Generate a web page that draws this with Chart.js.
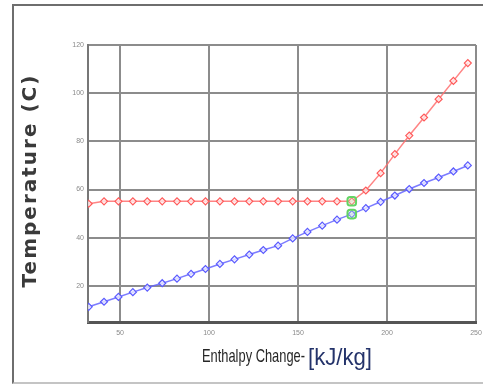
<!DOCTYPE html>
<html>
<head>
<meta charset="utf-8">
<script src="https://cdn.jsdelivr.net/npm/chart.js@4.4.0/dist/chart.umd.min.js"></script>
<style>
  html, body { margin: 0; padding: 0; background: #fff; }
  #wrap { position: relative; width: 483px; height: 385px; overflow: hidden; }
  #frame {
    position: absolute; left: 12px; top: 4px; width: 490px; height: 376px;
    border-top: 2px solid #6e6e6e; border-left: 2px solid #6e6e6e;
    border-bottom: 2px solid #c4c4c4;
  }
  canvas { position: relative; }
</style>
</head>
<body>
<div id="wrap">
  <div id="frame"></div>
  <canvas id="tqChart" width="483" height="385"></canvas>
</div>
<script>
// enthalpy change (kJ/kg) for each calculated point
const enthalpy = [32.4, 41.0, 49.1, 57.2, 65.3, 73.7, 82.0, 89.9, 98.0, 106.1, 114.3, 122.6, 130.5, 138.8,
                  147.0, 155.3, 163.6, 171.9, 180.2, 188.1, 196.4, 204.4, 212.5, 220.8, 229.0, 237.3, 245.4];
// hot side (red) temperature, C
const hotTemp = [54.1, 55.1, 55.1, 55.1, 55.1, 55.1, 55.1, 55.1, 55.1, 55.1, 55.1, 55.1, 55.1, 55.1,
                 55.1, 55.1, 55.1, 55.1, 55.1, 59.6, 66.8, 74.7, 82.4, 89.9, 97.5, 105.1, 112.5];
// cold side (blue) temperature, C
const coldTemp = [11.3, 13.4, 15.4, 17.4, 19.3, 21.1, 23.0, 25.0, 27.0, 29.1, 31.0, 33.0, 34.9, 36.7,
                  39.7, 42.4, 45.0, 47.5, 49.8, 52.3, 54.9, 57.5, 60.2, 62.7, 65.0, 67.5, 70.0];
// pinch point markers (green)
const pinchX = [180.2, 180.2];
const pinchY = [55.1, 49.8];

const xTicks = [50, 100, 150, 200, 250];
const yTicks = [20, 40, 60, 80, 100, 120];

const yTitle = 'Temperature (C)';
const xTitle = 'Enthalpy Change-';
const xUnit = '[kJ/kg]';

const toPoints = (xs, ys) => xs.map((x, i) => ({ x: x, y: ys[i] }));

// text squeezed/stretched to a given width
function drawFit(ctx, text, font, color, x, y, width) {
    ctx.save();
    ctx.font = font;
    ctx.fillStyle = color;
    ctx.textBaseline = 'alphabetic';
    ctx.textAlign = 'left';
    const w = ctx.measureText(text).width;
    ctx.translate(x, y);
    ctx.scale(width / w, 1);
    ctx.fillText(text, 0, 0);
    ctx.restore();
}

const axisTitles = {
    id: 'axisTitles',
    afterDraw(chart) {
        const ctx = chart.ctx;
        const area = chart.chartArea;
        // y title, rotated
        ctx.save();
        ctx.translate(36, (area.top + area.bottom) / 2 - 3);
        ctx.rotate(-Math.PI / 2);
        ctx.font = 'bold 20px "DejaVu Sans"';
        ctx.letterSpacing = '2px';
        ctx.fillStyle = '#3a3a3a';
        ctx.textAlign = 'center';
        ctx.textBaseline = 'alphabetic';
        ctx.fillText(yTitle, 0, 0);
        ctx.restore();
        // x title in two parts
        drawFit(ctx, xTitle, '19px "Liberation Sans"', '#262626', 202, 362, 103);
        drawFit(ctx, xUnit, '24px "Liberation Sans"', '#24336a', 308, 365, 64);
    }
};

const ctx = document.getElementById('tqChart');

new Chart(ctx, {
    type: 'scatter',
    data: {
        datasets: [{
            label: 'Hot',
            data: toPoints(enthalpy, hotTemp),
            showLine: true,
            borderColor: 'rgba(255, 110, 110, 0.85)',
            borderWidth: 1.5,
            pointStyle: 'rectRot',
            pointRadius: 3.5,
            pointBorderWidth: 1.2,
            pointBorderColor: '#ff5a5a',
            pointBackgroundColor: 'rgba(255, 235, 235, 0.8)',
            order: 2
        }, {
            label: 'Cold',
            data: toPoints(enthalpy, coldTemp),
            showLine: true,
            borderColor: 'rgba(100, 100, 255, 0.85)',
            borderWidth: 1.5,
            pointStyle: 'rectRot',
            pointRadius: 3.5,
            pointBorderWidth: 1.2,
            pointBorderColor: '#5a5aff',
            pointBackgroundColor: 'rgba(235, 235, 255, 0.8)',
            order: 2
        }, {
            label: 'Pinch',
            data: toPoints(pinchX, pinchY),
            showLine: false,
            pointStyle: 'rectRounded',
            pointRadius: 5,
            pointBorderWidth: 2,
            pointBorderColor: '#63d463',
            pointBackgroundColor: 'rgba(200, 240, 200, 0.3)',
            order: 1
        }]
    },
    options: {
        responsive: false,
        animation: false,
        devicePixelRatio: 1,
        layout: { padding: { top: 45, right: 2, left: 0, bottom: 0 } },
        scales: {
            x: {
                type: 'linear',
                min: 32,
                max: 250,
                afterBuildTicks: s => { s.ticks = xTicks.map(v => ({ value: v })); },
                afterFit: s => { s.height = 63; s.paddingLeft = 0; s.paddingRight = 0; },
                grid: { color: '#8c8c8c', lineWidth: 2, drawTicks: false },
                border: { color: '#555', width: 3 },
                ticks: {
                    font: { family: 'Liberation Sans', size: 7 },
                    color: '#8a8a8a',
                    padding: 7,
                    maxRotation: 0
                }
            },
            y: {
                min: 5,
                max: 120,
                afterBuildTicks: s => { s.ticks = yTicks.map(v => ({ value: v })); },
                afterFit: s => { s.width = 88; s.paddingTop = 0; s.paddingBottom = 0; },
                grid: { color: '#8c8c8c', lineWidth: 2, drawTicks: false },
                border: { color: '#777', width: 2 },
                ticks: {
                    font: { family: 'Liberation Sans', size: 7 },
                    color: '#8a8a8a',
                    padding: 4
                }
            }
        },
        plugins: {
            legend: { display: false },
            tooltip: { enabled: false }
        }
    },
    plugins: [axisTitles]
});
</script>
</body>
</html>
